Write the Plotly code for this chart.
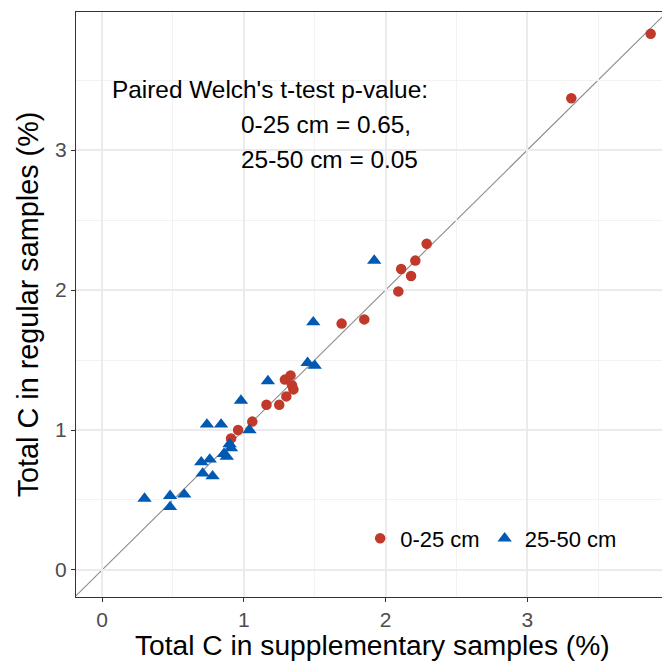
import plotly.graph_objects as go

# Data
red_x = [0.91, 0.96, 1.06, 1.16, 1.25, 1.30, 1.29, 1.33, 1.34, 1.35, 1.69, 1.85, 2.09, 2.18, 2.11, 2.21, 2.29, 3.31, 3.87]
red_y = [0.94, 1.00, 1.06, 1.18, 1.18, 1.24, 1.36, 1.39, 1.32, 1.29, 1.76, 1.79, 1.99, 2.10, 2.15, 2.21, 2.33, 3.37, 3.83]

blue_x = [0.30, 0.48, 0.58, 0.48, 0.70, 0.76, 0.71, 0.78, 0.86, 0.88, 0.90, 0.91, 0.74, 0.84, 1.04, 0.98, 1.17, 1.45, 1.50, 1.49, 1.92]
blue_y = [0.51, 0.53, 0.54, 0.45, 0.77, 0.79, 0.69, 0.67, 0.83, 0.81, 0.90, 0.87, 1.04, 1.04, 1.00, 1.21, 1.35, 1.48, 1.46, 1.77, 2.21]

series_names = ["0-25 cm", "25-50 cm"]
tick_vals = [0, 1, 2, 3]
tick_text = ["0", "1", "2", "3"]
x_title = "Total C in supplementary samples (%)"
y_title = "Total C in regular samples (%)"
annot_lines = ["Paired Welch's t-test p-value:", "0-25 cm = 0.65,", "25-50 cm = 0.05"]

RED = "#C0392B"
BLUE = "#0059B3"
FONT = "Liberation Sans, Arial, sans-serif"

fig = go.Figure()

# 1:1 reference line
fig.add_shape(type="line", xref="x", yref="y", x0=-0.3, y0=-0.3, x1=4.1, y1=4.1,
              line=dict(color="#8C8C8C", width=1.1), layer="below")

fig.add_trace(go.Scatter(x=red_x, y=red_y, mode="markers", name=series_names[0],
                         marker=dict(symbol="circle", size=10.5, color=RED)))
fig.add_trace(go.Scatter(x=blue_x, y=blue_y, mode="markers", name=series_names[1],
                         marker=dict(symbol="triangle-up", size=12.5, color=BLUE)))

axis_common = dict(
    tickvals=tick_vals, ticktext=tick_text,
    ticks="outside", ticklen=4, tickwidth=1.2, tickcolor="#333333",
    tickfont=dict(size=21, color="#4D4D4D", family=FONT),
    showgrid=True, gridcolor="#EBEBEB", gridwidth=1.6,
    minor=dict(dtick=0.5, showgrid=True, gridcolor="#F2F2F2", gridwidth=0.9, ticks=""),
    zeroline=False,
    showline=True, linecolor="#333333", linewidth=1.3, mirror=True,
)

fig.update_xaxes(range=[-0.1834, 3.992], **axis_common)
fig.update_yaxes(range=[-0.193, 3.986],
                 title=dict(text=y_title,
                            font=dict(size=28.8, color="black", family=FONT), standoff=7),
                 **axis_common)

# x-axis title placed as an annotation for exact vertical position
fig.add_annotation(text=x_title, xref="paper", yref="paper", x=0.5, y=-0.0821,
                   xanchor="center", yanchor="middle", showarrow=False, borderpad=0,
                   font=dict(size=28.2, color="black", family=FONT))

fig.add_annotation(text=annot_lines[0], xref="paper", yref="paper", x=0.0566, y=0.8667,
                   xanchor="left", yanchor="middle", showarrow=False,
                   font=dict(size=24.4, color="black", family=FONT))
fig.add_annotation(text=annot_lines[1], xref="paper", yref="paper", x=0.2745, y=0.8085,
                   xanchor="left", yanchor="middle", showarrow=False,
                   font=dict(size=24.4, color="black", family=FONT))
fig.add_annotation(text=annot_lines[2], xref="paper", yref="paper", x=0.2745, y=0.7487,
                   xanchor="left", yanchor="middle", showarrow=False,
                   font=dict(size=24.4, color="black", family=FONT))

fig.update_layout(
    width=662, height=654,
    margin=dict(l=68, r=2, t=4, b=65),
    paper_bgcolor="white", plot_bgcolor="white",
    font=dict(family=FONT),
    legend=dict(orientation="h", x=0.48, y=0.10, xanchor="left", yanchor="middle",
                bgcolor="rgba(0,0,0,0)", font=dict(size=22, color="black", family=FONT),
                itemsizing="trace"),
)

fig.write_html("out.html")
